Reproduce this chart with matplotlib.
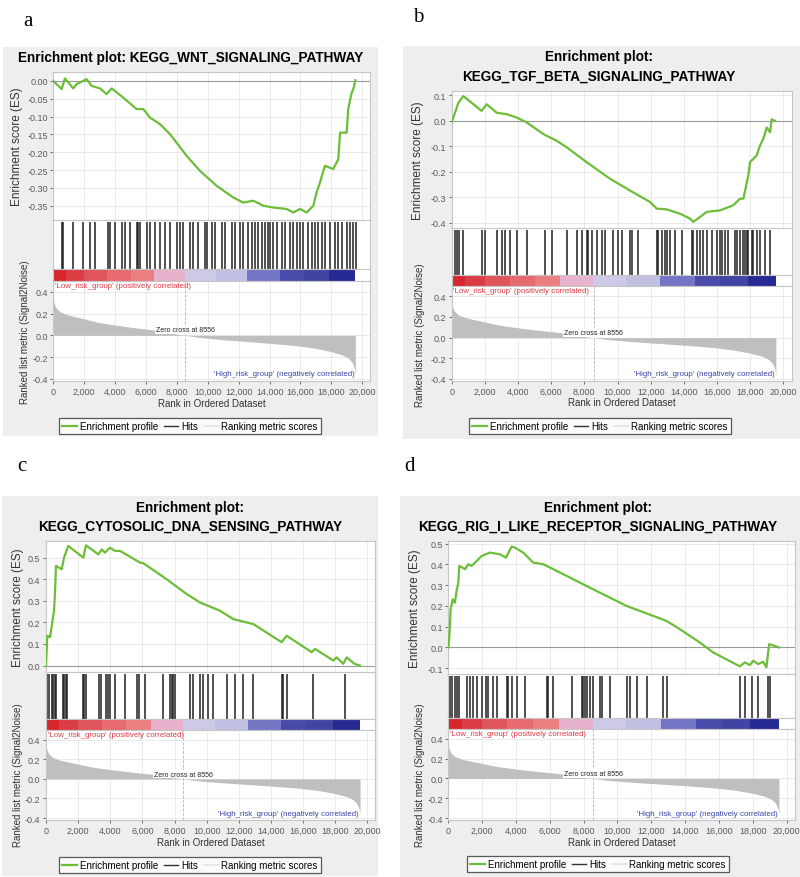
import matplotlib
matplotlib.use('Agg')
import matplotlib.pyplot as plt
from matplotlib.patches import Rectangle
from matplotlib.lines import Line2D
from matplotlib.ticker import FuncFormatter

plt.rcParams['font.family'] = ['Liberation Sans', 'DejaVu Sans']
plt.rcParams['axes.unicode_minus'] = False

# ranked gene list, shared by all four gene sets
n_genes = 19550
zero_cross = 8556
metric_rank = [0, 50, 150, 400, 900, 1900, 2900, 4000, 5000, 6000, 6600, 7500, 8556,
               9500, 11000, 13000, 15000, 16000, 17000, 18000, 18700, 19100, 19350, 19480, 19550]
metric_value = [0.35, 0.30, 0.26, 0.22, 0.19, 0.155, 0.12, 0.095, 0.075, 0.058, 0.048, 0.02, 0.0,
                -0.02, -0.04, -0.062, -0.085, -0.10, -0.12, -0.15, -0.18, -0.21, -0.25, -0.30, -0.36]
cbar_edges = [0, 800, 2000, 3500, 5000, 6550, 8550, 10500, 12550, 14650, 16200, 17850, 19550]
cbar_colors = ['#d7262e', '#dc3c44', '#e0545b', '#e66a6f', '#ea7f82', '#e7b2cb',
               '#cdcae7', '#c1c0e2', '#7474c4', '#4a4ba8', '#4244a3', '#252a92']

# a: KEGG_WNT_SIGNALING_PATHWAY
a_es_rank = [0, 540, 755, 1290, 1510, 2160, 2480, 3020, 3450, 3780, 3990, 4530, 5390, 5830, 6260,
             6900, 7550, 8630, 9490, 10570, 11650, 12300, 12950, 13590, 14240, 15100, 15530, 15970,
             16400, 16830, 17040, 17260, 17580, 18120, 18450, 18560, 18990, 19090, 19310, 19420, 19550]
a_es_value = [0.0, -0.023, 0.007, -0.021, -0.009, 0.005, -0.014, -0.021, -0.037, -0.021, -0.028,
              -0.047, -0.079, -0.079, -0.103, -0.121, -0.149, -0.210, -0.252, -0.294, -0.327, -0.341,
              -0.336, -0.350, -0.355, -0.359, -0.369, -0.359, -0.369, -0.350, -0.313, -0.285, -0.238,
              -0.247, -0.219, -0.145, -0.145, -0.079, -0.033, -0.023, 0.002]
a_hits = [540, 650, 1290, 1940, 2380, 2700, 3560, 3670, 3990, 4430, 4640, 4960, 5400, 5500, 5610,
          6050, 6260, 6580, 6910, 7230, 7550, 7990, 8200, 8410, 8850, 9060, 9390, 9820, 9930, 10250,
          10470, 10900, 11110, 11550, 11760, 12080, 12300, 12620, 12840, 13050, 13270, 13490, 13700,
          13920, 14030, 14240, 14460, 14780, 15000, 15320, 15530, 15750, 15970, 16180, 16500, 16720,
          16940, 17150, 17370, 17590, 17910, 18230, 18450, 18670, 18990, 19200, 19420, 19590]

# b: KEGG_TGF_BETA_SIGNALING_PATHWAY
b_es_rank = [0, 200, 400, 700, 1200, 1800, 2110, 2710, 3320, 3920, 4520, 5530, 6330, 6940, 8140,
             9550, 10750, 11960, 12360, 12970, 13770, 14370, 14570, 14970, 15380, 16180, 16980,
             17390, 17590, 17890, 17990, 18390, 18590, 18790, 19000, 19200, 19300, 19500]
b_es_value = [-0.005, 0.032, 0.071, 0.097, 0.071, 0.039, 0.065, 0.032, 0.026, 0.013, -0.006, -0.052,
              -0.078, -0.104, -0.162, -0.227, -0.273, -0.318, -0.344, -0.347, -0.364, -0.383, -0.396,
              -0.377, -0.357, -0.351, -0.331, -0.305, -0.305, -0.214, -0.162, -0.136, -0.097, -0.071,
              -0.026, -0.045, 0.006, 0.0]
b_hits = [200, 300, 460, 700, 1810, 2010, 2710, 3010, 3210, 3520, 3920, 4520, 5630, 6030, 6930, 7540,
          7840, 8140, 8240, 8440, 8740, 9040, 9240, 9750, 10050, 10250, 10750, 10850, 11250, 12360,
          12460, 12660, 12860, 12960, 13160, 13470, 13870, 14470, 14570, 14770, 14970, 15170, 15370,
          15680, 15980, 16180, 16280, 16480, 16680, 17080, 17180, 17380, 17590, 17690, 17790, 17890,
          18090, 18190, 18390, 18590, 18890, 19190]

# c: KEGG_CYTOSOLIC_DNA_SENSING_PATHWAY
c_es_rank = [0, 80, 250, 420, 500, 560, 620, 980, 1120, 1390, 2320, 2490, 3260, 3470, 3670, 3980,
             4300, 4610, 5850, 6060, 7510, 8760, 9590, 10830, 11660, 12910, 14670, 14980, 16540,
             16750, 17890, 18090, 18510, 18720, 19200, 19550]
c_es_value = [0.0, 0.138, 0.131, 0.215, 0.254, 0.338, 0.462, 0.446, 0.5, 0.554, 0.5, 0.557, 0.515,
              0.538, 0.523, 0.546, 0.531, 0.531, 0.477, 0.474, 0.4, 0.331, 0.292, 0.254, 0.215, 0.192,
              0.108, 0.138, 0.062, 0.077, 0.023, 0.038, 0.008, 0.038, 0.008, 0.0]
c_hits = [80, 210, 350, 460, 560, 620, 1040, 1120, 1250, 1290, 2320, 2390, 2490, 3320, 3400, 3740,
          3880, 3980, 4300, 4920, 5640, 5810, 6160, 7260, 7720, 7820, 7930, 8030, 8960, 9170, 9590,
          9790, 10100, 10420, 11250, 11770, 12280, 12910, 14670, 14770, 14980, 16640, 18610]

# d: KEGG_RIG_I_LIKE_RECEPTOR_SIGNALING_PATHWAY
d_es_rank = [0, 60, 140, 260, 390, 490, 590, 650, 990, 1180, 1380, 1680, 1970, 2460, 3050, 3410,
             3740, 3940, 4430, 5020, 5620, 6990, 8180, 9360, 10540, 11330, 12120, 12900, 13690,
             14870, 15660, 17240, 17530, 17830, 18030, 18320, 18620, 18810, 18970, 19550]
d_es_value = [0.0, 0.048, 0.184, 0.232, 0.216, 0.272, 0.313, 0.393, 0.377, 0.401, 0.393, 0.417,
              0.441, 0.457, 0.449, 0.433, 0.486, 0.481, 0.457, 0.409, 0.401, 0.345, 0.296, 0.248,
              0.2, 0.176, 0.152, 0.128, 0.088, 0.024, -0.024, -0.091, -0.072, -0.085, -0.064, -0.080,
              -0.069, -0.096, 0.016, 0.0]
d_hits = [100, 200, 400, 530, 650, 1090, 1280, 1480, 1720, 1970, 2230, 2370, 2620, 2860, 3450, 3550,
          3750, 4040, 4540, 5820, 5920, 6210, 7300, 7890, 7990, 8080, 8220, 8380, 8580, 8970, 9070,
          9560, 10550, 10740, 11140, 11730, 12720, 12910, 17250, 17540, 17940, 18330, 18920, 19020]

W, H = 800, 878
GREEN = '#6cbd38'
GRID = '#e6e6e6'
SPINE = '#c6c6c6'
TICK = '#5a5a5a'

fig = plt.figure(figsize=(8, 8.78), dpi=100)


def box(x0, y0, x1, y1):
    return [x0 / W, 1 - y1 / H, (x1 - x0) / W, (y1 - y0) / H]


def frame(ax):
    for s in ax.spines.values():
        s.set_color(SPINE)
        s.set_linewidth(0.8)
    ax.tick_params(colors=TICK, labelsize=6.5, length=2, width=0.6, pad=2)
    ax.set_xlim(0, 20500)
    ax.set_xticks(range(0, 20001, 2000))


def panel(g, letter, title, es_rank, es_value, hits, ylim, yticks, fmt):
    x0, y0, x1, y1 = g['bg']
    fig.add_artist(Rectangle((x0 / W, 1 - y1 / H), (x1 - x0) / W, (y1 - y0) / H,
                             transform=fig.transFigure, facecolor='#eeeeee',
                             edgecolor='none', zorder=-10))
    fig.text(g['letter'][0] / W, 1 - g['letter'][1] / H, letter, family='Liberation Serif',
             fontsize=15, ha='center', va='center')
    for line, ty in zip(title, g['title_y']):
        fig.text(g['title_x'] / W, 1 - ty / H, line, fontsize=9.8, fontweight='bold',
                 ha='center', va='center')

    left, right = g['left'], g['right']

    # enrichment score
    ax = fig.add_axes(box(left, g['es_top'], right, g['es_bot']))
    frame(ax)
    ax.plot(es_rank, es_value, color=GREEN, lw=1.6, zorder=3)
    ax.axhline(0, color='#9a9a9a', lw=0.8, zorder=2)
    ax.set_ylim(ylim)
    ax.set_yticks(yticks)
    ax.yaxis.set_major_formatter(FuncFormatter(lambda v, p: fmt % (0.0 if abs(v) < 1e-9 else v)))
    ax.tick_params(axis='x', length=0, labelbottom=False)
    ax.grid(True, color=GRID, lw=0.6)
    ax.set_axisbelow(True)

    # hits
    ax = fig.add_axes(box(left, g['es_bot'], right, g['cb_top']))
    frame(ax)
    ax.vlines(hits, 0, 0.95, color='#202020', lw=1.1)
    ax.set_ylim(0, 1)
    ax.set_yticks([])
    ax.tick_params(axis='x', length=0, labelbottom=False)

    # colour bar of the ranked list
    ax = fig.add_axes(box(left, g['cb_top'], right, g['cb_bot']))
    frame(ax)
    for i, c in enumerate(cbar_colors):
        ax.axvspan(cbar_edges[i], cbar_edges[i + 1], color=c, lw=0)
    ax.set_yticks([])
    ax.tick_params(axis='x', length=0, labelbottom=False)

    # ranked list metric
    ax = fig.add_axes(box(left, g['cb_bot'], right, g['m_bot']))
    frame(ax)
    ax.fill_between(metric_rank, metric_value, 0, color='#bfbfbf', lw=0, zorder=2)
    ax.axvline(zero_cross, color='#b5b5b5', ls='--', lw=0.6, zorder=1)
    ax.set_ylim(-0.42, 0.5)
    ax.set_yticks([-0.4, -0.2, 0.0, 0.2, 0.4])
    ax.yaxis.set_major_formatter(FuncFormatter(lambda v, p: '%.1f' % (0.0 if abs(v) < 1e-9 else v)))
    ax.xaxis.set_major_formatter(FuncFormatter(lambda v, p: '{:,.0f}'.format(v)))
    ax.grid(True, color=GRID, lw=0.6)
    ax.set_axisbelow(True)
    ax.text(100, 0.455, "'Low_risk_group' (positively correlated)", color='#dd3a45',
            fontsize=5.7, va='center', ha='left')
    ax.text(n_genes - 60, -0.35, "'High_risk_group' (negatively correlated)", color='#3a46a8',
            fontsize=5.7, va='center', ha='right')
    ax.text(zero_cross, 0.05, 'Zero cross at %d' % zero_cross, fontsize=5, ha='center',
            va='center', color='#222222', zorder=4,
            bbox=dict(facecolor='white', edgecolor='none', pad=0.6))

    cx = (left + right) / 2
    fig.text(cx / W, 1 - g['xlab_y'] / H, 'Rank in Ordered Dataset', fontsize=7,
             ha='center', va='center', color='#333333')
    fig.text(g['es_lab_x'] / W, 1 - (g['es_top'] + g['es_bot']) / 2 / H, 'Enrichment score (ES)',
             rotation=90, fontsize=8.5, ha='center', va='center', color='#333333')
    fig.text(g['rk_lab_x'] / W, 1 - g['rk_lab_y'] / H, 'Ranked list metric (Signal2Noise)',
             rotation=90, fontsize=7, ha='center', va='center', color='#333333')

    handles = [Line2D([], [], color=GREEN, lw=1.6),
               Line2D([], [], color='#333333', lw=1.0),
               Line2D([], [], color='#e4e4e4', lw=1.2)]
    leg = fig.legend(handles, ['Enrichment profile', 'Hits', 'Ranking metric scores'],
                     loc='center', bbox_to_anchor=(g['leg'][0] / W, 1 - g['leg'][1] / H),
                     ncol=3, fontsize=7, frameon=True, fancybox=False, edgecolor='#333333',
                     handlelength=1.5, handletextpad=0.3, columnspacing=0.6, borderpad=0.35)
    leg.get_frame().set_linewidth(0.9)


layout_a = dict(bg=(3, 48, 378, 437), letter=(28, 22), title_x=191, title_y=[58],
                left=53.3, right=370, es_top=73, es_bot=221, cb_top=270, cb_bot=282, m_bot=382,
                es_lab_x=17, rk_lab_x=25, rk_lab_y=332, leg=(190, 427), xlab_y=404)
layout_b = dict(bg=(403, 47, 800, 440), letter=(418, 18), title_x=599, title_y=[57, 77],
                left=451.7, right=791.6, es_top=92, es_bot=229, cb_top=276, cb_bot=287, m_bot=382,
                es_lab_x=418, rk_lab_x=420, rk_lab_y=335, leg=(600, 427), xlab_y=403)
layout_c = dict(bg=(2, 497, 378, 877), letter=(22, 467), title_x=190, title_y=[508, 527],
                left=46, right=375.3, es_top=542, es_bot=673, cb_top=720, cb_bot=731, m_bot=821,
                es_lab_x=18, rk_lab_x=18, rk_lab_y=775, leg=(190, 866), xlab_y=843)
layout_d = dict(bg=(400, 497, 800, 878), letter=(410, 467), title_x=598, title_y=[508, 527],
                left=448.3, right=795, es_top=542, es_bot=675, cb_top=719, cb_bot=730, m_bot=821,
                es_lab_x=415, rk_lab_x=420, rk_lab_y=775, leg=(598, 865), xlab_y=843)

panel(layout_a, 'a', ['Enrichment plot: KEGG_WNT_SIGNALING_PATHWAY'],
      a_es_rank, a_es_value, a_hits, (-0.39, 0.025),
      [0.0, -0.05, -0.10, -0.15, -0.20, -0.25, -0.30, -0.35], '%.2f')
panel(layout_b, 'b', ['Enrichment plot:', 'KEGG_TGF_BETA_SIGNALING_PATHWAY'],
      b_es_rank, b_es_value, b_hits, (-0.42, 0.117),
      [0.1, 0.0, -0.1, -0.2, -0.3, -0.4], '%.1f')
panel(layout_c, 'c', ['Enrichment plot:', 'KEGG_CYTOSOLIC_DNA_SENSING_PATHWAY'],
      c_es_rank, c_es_value, c_hits, (-0.03, 0.577),
      [0.0, 0.1, 0.2, 0.3, 0.4, 0.5], '%.1f')
panel(layout_d, 'd', ['Enrichment plot:', 'KEGG_RIG_I_LIKE_RECEPTOR_SIGNALING_PATHWAY'],
      d_es_rank, d_es_value, d_hits, (-0.128, 0.513),
      [-0.1, 0.0, 0.1, 0.2, 0.3, 0.4, 0.5], '%.1f')

fig.savefig('out.png', dpi=100)
